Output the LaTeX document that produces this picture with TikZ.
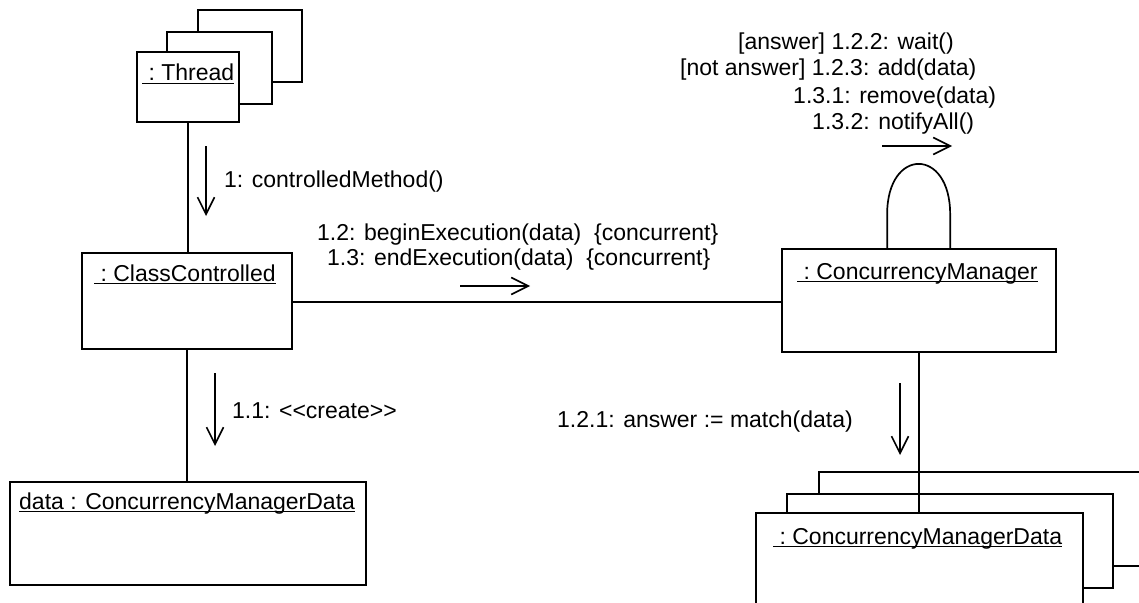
\documentclass[tikz,border=0pt]{standalone}
\usepackage{fontspec}
\setmainfont{Liberation Sans}
\usetikzlibrary{arrows.meta}
\tikzset{
  objbox/.style={draw, fill=white, inner sep=0pt, line width=1.7pt},
  conn/.style={line width=1.7pt},
  msg/.style={line width=1.6pt, -{Straight Barb[length=17pt,width=17pt,line width=1.6pt]}},
  lbl/.style={inner sep=0pt, anchor=base west, font=\fontsize{23}{27}\selectfont},
  uline/.style={line width=1.5pt}
}
\begin{document}
\begin{tikzpicture}[x=1pt,y=-1pt]
\useasboundingbox (0,0) rectangle (1139,602);
\fill[white] (0,0) rectangle (1139,602);
\clip (0,0) rectangle (1139,602);

% Thread stack
\node[objbox, minimum width=104pt, minimum height=72pt] (t3) at (250,46) {};
\node[objbox, minimum width=105pt, minimum height=72pt] (t2) at (219.5,68) {};
\node[objbox, minimum width=102pt, minimum height=70pt] (t1) at (188,87) {};
\node[lbl] (t1name) at (142,81) {\ :\ Thread};
\draw[uline] ([yshift=-2.5pt]t1name.base west) -- ([yshift=-2.5pt]t1name.base east);

% ClassControlled
\node[objbox, minimum width=210pt, minimum height=96pt] (cc) at (187,301) {};
\node[lbl] (ccname) at (94,281) {\ :\ ClassControlled};
\draw[uline] ([yshift=-2.5pt]ccname.base west) -- ([yshift=-2.5pt]ccname.base east);

% ConcurrencyManager
\node[objbox, minimum width=274pt, minimum height=103pt] (cm) at (919,300.5) {};
\node[lbl] (cmname) at (797,279) {\ :\ ConcurrencyManager};
\draw[uline] ([yshift=-2.5pt]cmname.base west) -- ([yshift=-2.5pt]cmname.base east);

% data : ConcurrencyManagerData
\node[objbox, minimum width=356pt, minimum height=103pt] (dat) at (188,533.5) {};
\node[lbl] (datname) at (19,509) {data : ConcurrencyManagerData};
\draw[uline] ([yshift=-2.5pt]datname.base west) -- ([yshift=-2.5pt]datname.base east);

% ConcurrencyManagerData stack
\node[objbox, minimum width=361pt, minimum height=94pt] (d3) at (999.5,519) {};
\node[objbox, minimum width=326pt, minimum height=94pt] (d2) at (950,541) {};
\node[objbox, minimum width=327pt, minimum height=127pt] (d1) at (919.5,576.5) {};
\node[lbl] (d1name) at (773,544) {\ :\ ConcurrencyManagerData};
\draw[uline] ([yshift=-2.5pt]d1name.base west) -- ([yshift=-2.5pt]d1name.base east);

% links
\draw[conn] (t1.south) -- (t1.south |- cc.north);
\draw[conn] (cc.east |- 0,302) -- (cm.west |- 0,302);
\draw[conn] (cc.south) -- (cc.south |- dat.north);
\draw[conn] (cm.south) -- (cm.south |- d1.north);
\draw[conn] ([xshift=106pt]cm.north west) -- ++(0,-34) .. controls +(0,-67) and +(0,-67) .. ++(63,0) -- ([xshift=169pt]cm.north west);

% messages
\coordinate (m1s) at (206,146); \coordinate (m1e) at (206,216);
\draw[msg] (m1s) -- (m1e);
\node[lbl] (m1) at (224,187) {1: controlledMethod()};

\coordinate (m2s) at (460,286); \coordinate (m2e) at (530,286);
\draw[msg] (m2s) -- (m2e);
\node[lbl] (m2a) at (317,240) {1.2: beginExecution(data)\ \ \{concurrent\}};
\node[lbl] (m2b) at (327,265) {1.3: endExecution(data)\ \ \{concurrent\}};

\coordinate (m3s) at (882,146); \coordinate (m3e) at (952,146);
\draw[msg] (m3s) -- (m3e);
\node[lbl] (m3a) at (738,49) {[answer] 1.2.2: wait()};
\node[lbl] (m3b) at (680,75) {[not answer] 1.2.3: add(data)};
\node[lbl] (m3c) at (793,103) {1.3.1: remove(data)};
\node[lbl] (m3d) at (812,129) {1.3.2: notifyAll()};

\coordinate (m4s) at (215,373); \coordinate (m4e) at (215,446);
\draw[msg] (m4s) -- (m4e);
\node[lbl] (m4) at (232,418) {1.1: <{}<create>{}>};

\coordinate (m5s) at (900,383); \coordinate (m5e) at (900,455);
\draw[msg] (m5s) -- (m5e);
\node[lbl] (m5) at (557,427) {1.2.1: answer := match(data)};
\end{tikzpicture}
\end{document}
